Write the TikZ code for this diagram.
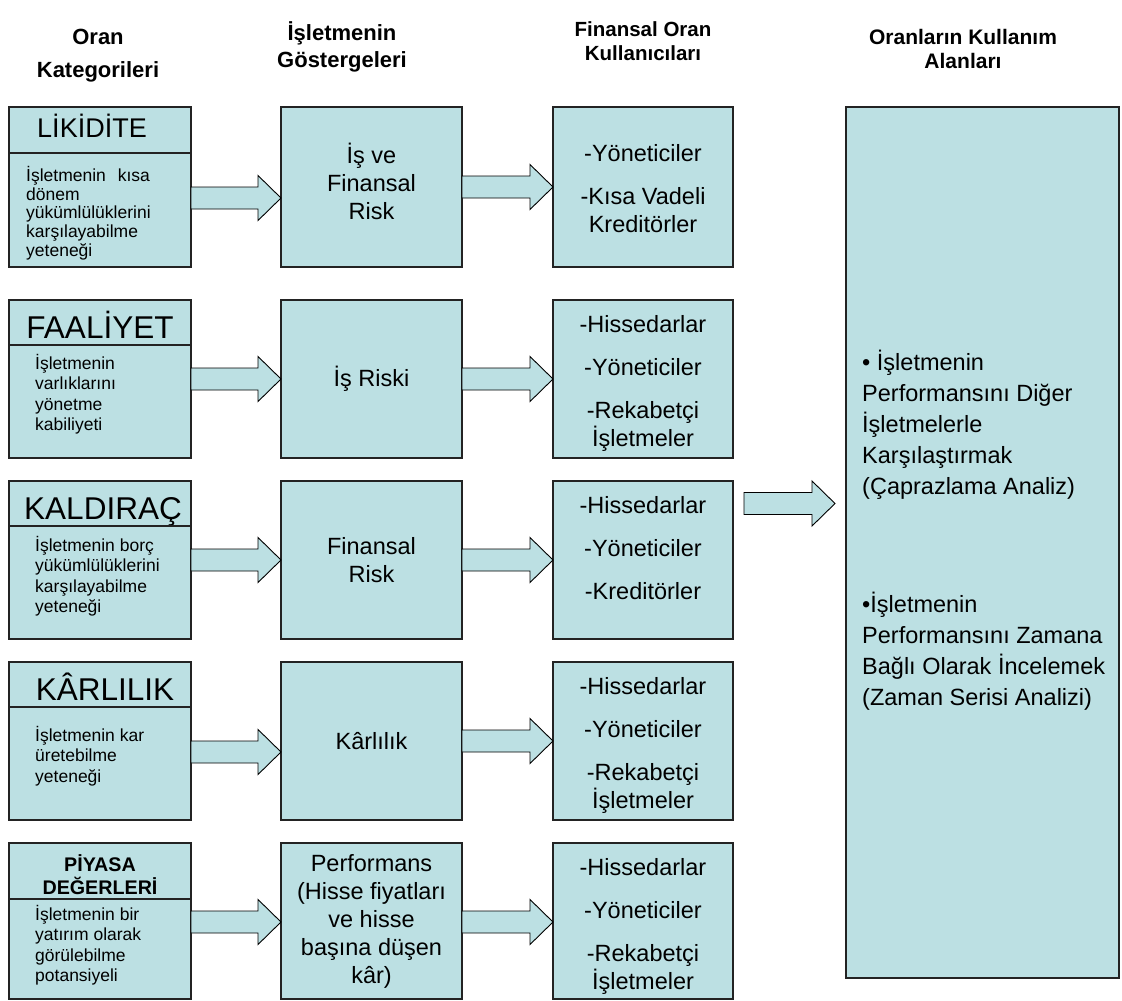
\documentclass[tikz,border=0pt]{standalone}
\usepackage{fontspec}
\setmainfont{Liberation Sans}
\usetikzlibrary{positioning,calc}
\definecolor{boxfill}{RGB}{188,224,227}
\definecolor{boxline}{RGB}{35,35,35}
\tikzset{
  plainbox/.style={draw=boxline,line width=1.3pt,fill=boxfill,inner sep=0pt,outer sep=0pt},
  titlebox/.style={plainbox,anchor=north west,minimum width=182pt,minimum height=45pt},
  bigtitle/.style={titlebox,text height=31pt,text depth=0pt,font=\fontsize{31.5}{36}\selectfont},
  descbox/.style={plainbox,minimum width=182pt,minimum height=113pt},
  desctext/.style={anchor=north west,inner sep=0pt,align=left,font=\fontsize{17.5}{20.5}\selectfont},
  gostbox/.style={plainbox,minimum width=181pt,minimum height=158pt,align=center,
    font=\fontsize{23.5}{28}\selectfont},
  kulbox/.style={plainbox,minimum width=180pt,minimum height=158pt},
  kultext/.style={anchor=north,inner sep=0pt,align=center,font=\fontsize{23.5}{28}\selectfont},
  baslik/.style={align=center,inner sep=0pt,font=\bfseries\fontsize{22}{27}\selectfont},
  okstil/.style={draw=black,line width=0.9pt,fill=boxfill,line join=miter},
}
% block arrow: [gap]{from}{to}{y}
\newcommand\blockarrow[4][0]{%
  \draw[okstil]
    ($(#2.east|-0,#4)+(#1,-11)$) -- ($(#3.west|-0,#4)+(-#1-23,-11)$)
    -- ++(0,-11.5) -- ($(#3.west|-0,#4)+(-#1,0)$)
    -- ($(#3.west|-0,#4)+(-#1-23,22.5)$) -- ++(0,-11.5)
    -- ($(#2.east|-0,#4)+(#1,11)$) -- cycle;}

\begin{document}
\begin{tikzpicture}[x=1pt,y=-1pt]
  \useasboundingbox (0,0) rectangle (1122,1001);

  % column headers
  \node[baslik] (h1) at (98,56) {Oran\\[6pt]Kategorileri};
  \node[baslik] (h2) at (342,47) {İşletmenin\\Göstergeleri};
  \node[baslik,font=\bfseries\fontsize{20.5}{24}\selectfont] (h3) at (643,41)
    {Finansal Oran\\Kullanıcıları};
  \node[baslik,font=\bfseries\fontsize{21}{24}\selectfont] (h4) at (963,49)
    {Oranların Kullanım\\Alanları};

  % oran kategorileri
  \node[bigtitle,minimum height=46pt,text height=14pt,font=\fontsize{27}{32}\selectfont]
    (k1t) at (9,107) {LİKİDİTE\hspace*{16pt}};
  \node[descbox,below=0pt of k1t,minimum height=114pt] (k1) {};
  \node[desctext,font=\fontsize{17.5}{18.7}\selectfont] (k1d) at (26,166)
    {İşletmenin\hspace{7pt} kısa\\dönem\\yükümlülüklerini\\karşılayabilme\\yeteneği};

  \node[bigtitle] (k2t) at (9,300) {FAALİYET};
  \node[descbox,below=0pt of k2t] (k2) {};
  \node[desctext] (k2d) at (35,354)
    {İşletmenin\\varlıklarını\\yönetme\\kabiliyeti};

  \node[bigtitle] (k3t) at (9,481) {\hspace*{6pt}KALDIRAÇ};
  \node[descbox,below=0pt of k3t] (k3) {};
  \node[desctext] (k3d) at (35,536)
    {İşletmenin borç\\yükümlülüklerini\\karşılayabilme\\yeteneği};

  \node[bigtitle] (k4t) at (9,662) {\hspace*{10pt}KÂRLILIK};
  \node[descbox,below=0pt of k4t] (k4) {};
  \node[desctext] (k4d) at (35,726)
    {İşletmenin kar\\üretebilme\\yeteneği};

  \node[titlebox,minimum height=56pt,align=center,text height=47pt,
    font=\bfseries\fontsize{19.7}{23}\selectfont] (k5t) at (9,843) {PİYASA\\DEĞERLERİ};
  \node[descbox,below=0pt of k5t,minimum height=100pt] (k5) {};
  \node[desctext] (k5d) at (35,905)
    {İşletmenin bir\\yatırım olarak\\görülebilme\\potansiyeli};

  % isletmenin gostergeleri
  \node[gostbox,minimum height=160pt,text depth=12pt] (g1) at (371.5,187) {İş ve\\Finansal\\Risk};
  \node[gostbox] (g2) at (371.5,379) {İş Riski};
  \node[gostbox] (g3) at (371.5,560) {Finansal\\Risk};
  \node[gostbox] (g4) at (371.5,741) {Kârlılık};
  \node[gostbox,minimum height=156pt] (g5) at (371.5,921)
    {Performans\\(Hisse fiyatları\\ve hisse\\başına düşen\\kâr)};

  % oran kullanicilari
  \node[kulbox,minimum height=160pt] (u1) at (643,187) {};
  \node[kulbox] (u2) at (643,379) {};
  \node[kulbox] (u3) at (643,560) {};
  \node[kulbox] (u4) at (643,741) {};
  \node[kulbox,minimum height=156pt] (u5) at (643,921) {};
  \node[kultext] (u1y) at ([yshift=-37pt]u1.north)
    {-Yöneticiler\\[15pt]-Kısa Vadeli\\Kreditörler};
  \node[kultext] (u2y) at ([yshift=-15.5pt]u2.north)
    {-Hissedarlar\\[15pt]-Yöneticiler\\[15pt]-Rekabetçi\\İşletmeler};
  \node[kultext] (u3y) at ([yshift=-15.5pt]u3.north)
    {-Hissedarlar\\[15pt]-Yöneticiler\\[15pt]-Kreditörler};
  \node[kultext] (u4y) at ([yshift=-15.5pt]u4.north)
    {-Hissedarlar\\[15pt]-Yöneticiler\\[15pt]-Rekabetçi\\İşletmeler};
  \node[kultext] (u5y) at ([yshift=-15.5pt]u5.north)
    {-Hissedarlar\\[15pt]-Yöneticiler\\[15pt]-Rekabetçi\\İşletmeler};

  % kullanim alanlari
  \node[plainbox,minimum width=273pt,minimum height=871pt] (alan) at (982.5,542.5) {};
  \node[desctext,font=\fontsize{23.5}{31}\selectfont] (alan1) at (862,350)
    {• İşletmenin\\Performansını Diğer\\İşletmelerle\\Karşılaştırmak\\(Çaprazlama Analiz)};
  \node[desctext,font=\fontsize{23.5}{31}\selectfont] (alan2) at (862,592)
    {•İşletmenin\\Performansını Zamana\\Bağlı Olarak İncelemek\\(Zaman Serisi Analizi)};

  % oklar
  \blockarrow{k1}{g1}{198}
  \blockarrow{k2}{g2}{379}
  \blockarrow{k3}{g3}{560}
  \blockarrow{k4}{g4}{752}
  \blockarrow{k5}{g5}{922}
  \blockarrow{g1}{u1}{187}
  \blockarrow{g2}{u2}{379}
  \blockarrow{g3}{u3}{560}
  \blockarrow{g4}{u4}{741}
  \blockarrow{g5}{u5}{922}
  \blockarrow[11]{u3}{alan}{503.5}
\end{tikzpicture}
\end{document}
